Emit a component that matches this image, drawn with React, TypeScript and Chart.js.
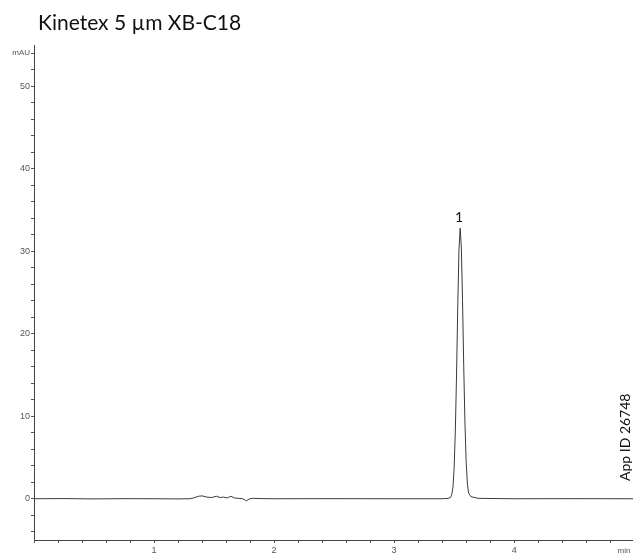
import React, { useEffect, useRef } from "react";
import { Chart, registerables } from "chart.js";

Chart.register(...registerables);

// ---- data ----
const times = [
  0, 0.25, 0.5, 0.75, 1.0, 1.2, 1.3, 1.33, 1.37, 1.4, 1.44, 1.48, 1.52, 1.55,
  1.58, 1.61, 1.64, 1.67, 1.7, 1.74, 1.77, 1.79, 1.82, 1.9, 2.0, 2.5, 3.0,
  3.4, 3.45, 3.47, 3.48, 3.49, 3.5, 3.51, 3.52, 3.53, 3.54, 3.55, 3.56, 3.57,
  3.58, 3.59, 3.6, 3.61, 3.62, 3.64, 3.7, 4.0, 4.5, 4.99,
];
const signal = [
  0, 0.02, -0.02, 0.01, 0, -0.02, 0, 0.1, 0.3, 0.35, 0.2, 0.15, 0.3, 0.15,
  0.2, 0.1, 0.3, 0.1, 0.05, 0, -0.25, -0.05, 0.05, 0.02, 0, 0.01, 0,
  0, 0.05, 0.15, 0.5, 1.4, 3.7, 8.2, 15.0, 23.2, 30.1, 32.8, 30.5, 24.0, 16.0,
  9.2, 4.5, 1.9, 0.7, 0.25, 0.05, 0, 0.01, 0,
];
const xTickLabels = [1, 2, 3, 4];
const yTickLabels = [0, 10, 20, 30, 40, 50];
const yMinorTicks = [
  -4, -2, 0, 2, 4, 6, 8, 10, 12, 14, 16, 18, 20, 22, 24, 26, 28, 30, 32, 34,
  36, 38, 40, 42, 44, 46, 48, 50, 52, 54,
];
const peakTimes = [3.54];
const peakHeights = [32.8];
const peakNames = ["1"];
const titleText = "Kinetex 5 µm XB-C18";
const xUnit = "min";
const yUnit = "mAU";
const appId = "App ID 26748";

const isNear = (v: number, list: number[]) =>
  list.some((t) => Math.abs(v - t) < 1e-6);

export default function App() {
  const ref = useRef<HTMLCanvasElement | null>(null);

  useEffect(() => {
    if (!ref.current) return;
    const textPlugin = {
      id: "texts",
      afterDraw(chart: any) {
        const ctx = chart.ctx as CanvasRenderingContext2D;
        const xs = chart.scales.x;
        const ys = chart.scales.y;
        const area = chart.chartArea;
        ctx.save();
        // title
        ctx.fillStyle = "#111";
        ctx.font = "21px Lato";
        ctx.textAlign = "left";
        ctx.textBaseline = "alphabetic";
        ctx.fillText(titleText, 38, 30);
        // y unit
        ctx.fillStyle = "#555";
        ctx.font = "8px 'Liberation Sans'";
        ctx.textAlign = "right";
        ctx.textBaseline = "middle";
        ctx.fillText(yUnit, area.left - 4, 53);
        // x unit
        ctx.textAlign = "center";
        ctx.textBaseline = "top";
        ctx.fillText(xUnit, 624, area.bottom + 7);
        // peak labels
        ctx.fillStyle = "#111";
        ctx.font = "14px Lato";
        ctx.textAlign = "center";
        ctx.textBaseline = "alphabetic";
        peakTimes.forEach((t, i) => {
          ctx.fillText(
            peakNames[i],
            xs.getPixelForValue(t),
            ys.getPixelForValue(peakHeights[i]) - 6
          );
        });
        // app id (rotated)
        ctx.translate(632, 481);
        ctx.rotate(-Math.PI / 2);
        ctx.font = "14px Lato";
        ctx.textAlign = "left";
        ctx.textBaseline = "bottom";
        ctx.fillText(appId, 0, 0);
        ctx.restore();
      },
    };

    const chart = new Chart(ref.current, {
      type: "line",
      data: {
        datasets: [
          {
            data: times.map((t, i) => ({ x: t, y: signal[i] })),
            borderColor: "#3a3a3a",
            borderWidth: 1,
            pointRadius: 0,
            tension: 0,
            fill: false,
          },
        ],
      },
      options: {
        animation: false,
        responsive: false,
        devicePixelRatio: 1,
        layout: { padding: { top: 45, left: 0, right: 0, bottom: 0 } },
        plugins: {
          legend: { display: false },
          tooltip: { enabled: false },
          title: { display: false },
        },
        scales: {
          x: {
            type: "linear",
            min: 0,
            max: 4.99,
            border: { color: "#444", width: 1 },
            grid: {
              drawOnChartArea: false,
              drawTicks: true,
              tickLength: 3,
              color: "#555",
            },
            ticks: {
              stepSize: 0.2,
              autoSkip: false,
              maxRotation: 0,
              includeBounds: false,
              padding: 2,
              color: "#555",
              font: { family: "'Liberation Sans'", size: 9 },
              callback: (v: any) =>
                isNear(Number(v), xTickLabels) ? String(Math.round(Number(v))) : "",
            },
            afterFit: (s: any) => {
              s.height = 16;
            },
          },
          y: {
            type: "linear",
            min: -5,
            max: 55,
            border: { color: "#444", width: 1 },
            grid: {
              drawOnChartArea: false,
              drawTicks: true,
              tickLength: 3,
              color: "#555",
            },
            afterBuildTicks: (s: any) => {
              s.ticks = yMinorTicks.map((v) => ({ value: v }));
            },
            ticks: {
              autoSkip: false,
              padding: 1,
              color: "#555",
              font: { family: "'Liberation Sans'", size: 9 },
              callback: (v: any) =>
                isNear(Number(v), yTickLabels) ? String(Math.round(Number(v))) : "",
            },
            afterFit: (s: any) => {
              s.width = 34;
            },
          },
        },
      },
      plugins: [textPlugin],
    });
    return () => chart.destroy();
  }, []);

  return (
    <div
      style={{
        position: "fixed",
        left: 0,
        top: 0,
        width: 633,
        height: 556,
        background: "#fff",
      }}
    >
      <canvas ref={ref} width={633} height={556} style={{ display: "block" }} />
    </div>
  );
}
